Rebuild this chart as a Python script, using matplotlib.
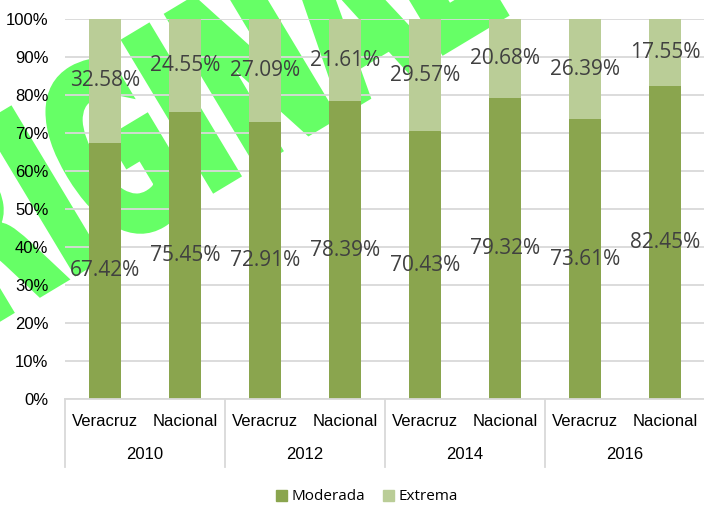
"""Pobreza moderada vs extrema, Veracruz y Nacional, 2010-2016 (stacked 100% bars)."""

import matplotlib
matplotlib.use("Agg")
import matplotlib.pyplot as plt
from matplotlib.font_manager import FontProperties
from matplotlib.patches import Patch, PathPatch
from matplotlib.textpath import TextPath
from matplotlib.transforms import Affine2D, blended_transform_factory

YEARS = ["2010", "2012", "2014", "2016"]
REGIONS = ["Veracruz", "Nacional"]
MODERADA = [67.42, 75.45, 72.91, 78.39, 70.43, 79.32, 73.61, 82.45]
EXTREMA = [32.58, 24.55, 27.09, 21.61, 29.57, 20.68, 26.39, 17.55]

C_MOD = "#8aa54e"
C_EXT = "#bacd97"
GRID = "#d9d9d9"
TXT = "#404040"
AXFONT = "Liberation Sans"

fig = plt.figure(figsize=(7.04, 5.07), dpi=100)
ax = fig.add_axes([65 / 704, 108 / 507, 640 / 704, 380 / 507])
ax.patch.set_facecolor("none")

# watermark behind the chart (edge in same colour to fatten the strokes)
tp = TextPath((0, 0), "ORIGINAL", size=1,
              prop=FontProperties(family="DejaVu Sans", weight="bold"))
bb = tp.get_extents()
wm = Affine2D().translate(-(bb.x0 + bb.x1) / 2, -(bb.y0 + bb.y1) / 2) \
    .scale(135, 235).rotate_deg(31).translate(150, 380)
fig.add_artist(PathPatch(tp, transform=wm, facecolor="#66ff66",
                         edgecolor="#66ff66", linewidth=6, zorder=-1))

x = list(range(len(MODERADA)))
ax.bar(x, MODERADA, width=0.39, color=C_MOD, zorder=2)
ax.bar(x, EXTREMA, width=0.39, bottom=MODERADA, color=C_EXT, zorder=2)

for xi, m, e in zip(x, MODERADA, EXTREMA):
    ax.text(xi, m / 2, f"{m:.2f}%", ha="center", va="center",
            fontsize=15, color=TXT, family="Open Sans", zorder=3)
    ax.text(xi, m + e / 2, f"{e:.2f}%", ha="center", va="center",
            fontsize=15, color=TXT, family="Open Sans", zorder=3)

ax.set_xlim(-0.5, 7.5)
ax.set_ylim(0, 100)
ax.set_yticks(range(0, 101, 10))
ax.set_yticklabels([f"{v}%" for v in range(0, 101, 10)], family=AXFONT,
                   fontsize=12, color="black")
ax.yaxis.grid(True, color=GRID, linewidth=1.3, zorder=0)
ax.set_axisbelow(True)
ax.tick_params(axis="y", length=0, pad=12)
ax.tick_params(axis="x", length=0)
ax.set_xticks([])
for s in ["top", "right", "left"]:
    ax.spines[s].set_visible(False)
ax.spines["bottom"].set_color(GRID)
ax.spines["bottom"].set_linewidth(1.3)

# two-level category axis
tr = blended_transform_factory(ax.transData, ax.transAxes)
for i in range(len(YEARS) + 1):
    ax.plot([2 * i - 0.5] * 2, [0, -0.179], color=GRID, lw=1.3,
            transform=tr, clip_on=False)
for xi in x:
    ax.text(xi, -0.058, REGIONS[xi % 2], transform=tr, ha="center",
            va="center", family=AXFONT, fontsize=12)
for i, yr in enumerate(YEARS):
    ax.text(2 * i + 0.5, -0.145, yr, transform=tr, ha="center",
            va="center", family=AXFONT, fontsize=12)

handles = [Patch(color=C_MOD, label="Moderada"), Patch(color=C_EXT, label="Extrema")]
fig.legend(handles=handles, loc="center", bbox_to_anchor=(367 / 704, 10 / 507),
           ncol=2, frameon=False, handlelength=0.7, handleheight=0.7,
           handletextpad=0.3, columnspacing=1.2,
           prop=FontProperties(family="Open Sans", size=11))

fig.savefig("out.png", dpi=100)
